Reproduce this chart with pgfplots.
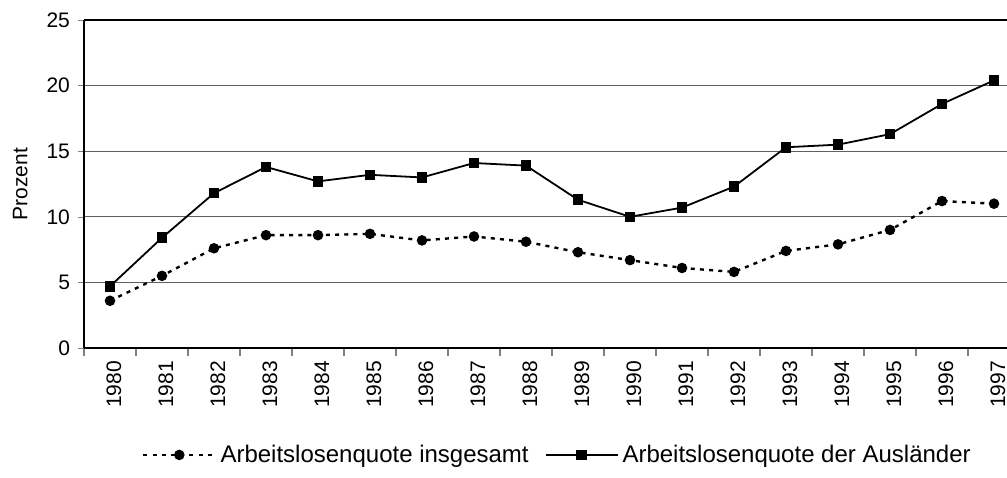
\documentclass[border=0pt]{standalone}
\usepackage{fontspec}
\setmainfont{Liberation Sans}
\usepackage{pgfplots}
\pgfplotsset{compat=1.18}
\definecolor{gridgray}{RGB}{96,96,96}

\begin{document}
\begin{tikzpicture}
\begin{axis}[name=ax, scale only axis, width=461.5pt, height=164pt,
  xmin=-0.5, xmax=17.25, ymin=0, ymax=25,
  axis x line*=box, axis y line*=left,
  axis line style={line width=0.8pt},
  xtick={0,...,17},
  xticklabels={1980,1981,1982,1983,1984,1985,1986,1987,1988,1989,1990,1991,1992,1993,1994,1995,1996,1997},
  minor xtick={-0.5,0.5,...,16.5},
  major x tick style={draw=none},
  minor tick style={line width=0.6pt},
  minor tick length=4pt,
  ytick={0,5,...,25},
  major tick length=3pt,
  tick align=outside,
  xtick pos=bottom, ytick pos=left,
  ymajorgrids, grid style={gridgray, line width=0.5pt},
  /pgf/number format/assume math mode=true,
  tick label style={font=\fontsize{10.5}{11}\selectfont},
  x tick label style={rotate=90, anchor=east, yshift=-2pt},
  yticklabel style={xshift=-0.5pt},
  ylabel={Prozent},
  ylabel style={at={(axis description cs:-0.069,0.5)}, anchor=center, font=\fontsize{10.5}{11}\selectfont},
  legend style={at={(0.514,-0.326)}, anchor=center, draw=none, legend columns=2,
    font=\fontsize{12}{13}\selectfont,
    /tikz/every even column/.append style={column sep=6pt}},
  legend image code/.code={\draw[mark repeat=2,mark phase=2] plot coordinates {(0pt,0pt)(18pt,0pt)(36pt,0pt)};},
]
\addplot[black, line width=1.2pt, dash pattern=on 2pt off 2.6pt, mark=*, mark size=2pt, mark options={solid}]
  coordinates {(0,3.6)(1,5.5)(2,7.6)(3,8.6)(4,8.6)(5,8.7)(6,8.2)(7,8.5)(8,8.1)(9,7.3)(10,6.7)(11,6.1)(12,5.8)(13,7.4)(14,7.9)(15,9.0)(16,11.2)(17,11.0)};
\addlegendentry{Arbeitslosenquote insgesamt}
\addplot[black, line width=0.9pt, mark=square*, mark size=2.2pt, mark options={solid}]
  coordinates {(0,4.7)(1,8.4)(2,11.8)(3,13.8)(4,12.7)(5,13.2)(6,13.0)(7,14.1)(8,13.9)(9,11.3)(10,10.0)(11,10.7)(12,12.3)(13,15.3)(14,15.5)(15,16.3)(16,18.6)(17,20.4)};
\addlegendentry{Arbeitslosenquote der Ausländer}
\end{axis}
\pgfresetboundingbox
\path ([shift={(-42pt,-64.5pt)}]ax.south west) rectangle ([shift={(0pt,10pt)}]ax.north east);
\end{tikzpicture}
\end{document}
